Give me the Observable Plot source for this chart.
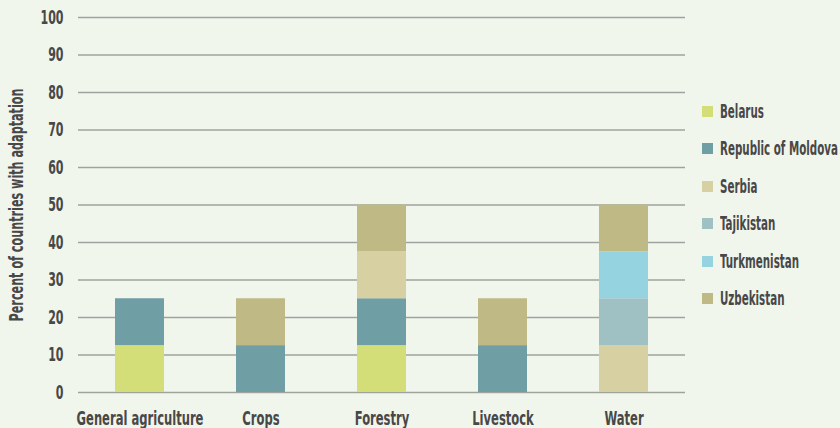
<!DOCTYPE html>
<html>
<head>
<meta charset="utf-8">
<script src="https://cdn.jsdelivr.net/npm/d3@7"></script>
<script src="https://cdn.jsdelivr.net/npm/@observablehq/plot@0.6"></script>
<style>
  html, body { margin: 0; padding: 0; background: #f1f6ec; }
  #wrap { position: relative; width: 840px; height: 428px; overflow: hidden;
    font-family: "DejaVu Sans Condensed", "DejaVu Sans", sans-serif; }
  #legend { position: absolute; left: 702px; top: 93px; }
  .item { position: relative; height: 37.4px; white-space: nowrap; }
  .sw { position: absolute; left: 0; top: 13px; width: 11px; height: 11px; }
  .lab { position: absolute; left: 18px; top: 6px; font-size: 20px; line-height: 24px; color: #484848;
    font-weight: bold; transform-origin: 0 50%; }
  #chart svg text { font-weight: bold; font-size: 20px; }
</style>
</head>
<body>
<div id="wrap"><div id="chart"></div><div id="legend"></div></div>
<script>
const categories = ["General agriculture", "Crops", "Forestry", "Livestock", "Water"];
const countries = ["Belarus", "Republic of Moldova", "Serbia", "Tajikistan", "Turkmenistan", "Uzbekistan"];
const colors = ["#d4de78", "#6f9fa5", "#d6d0a3", "#a0c1c4", "#96d3e0", "#bfba85"];
// percent of countries with adaptation, per country (rows) per category (columns)
const belarus      = [12.5, 0,    12.5, 0,    0];
const moldova      = [12.5, 12.5, 12.5, 12.5, 0];
const serbia       = [0,    0,    12.5, 0,    12.5];
const tajikistan   = [0,    0,    0,    0,    12.5];
const turkmenistan = [0,    0,    0,    0,    12.5];
const uzbekistan   = [0,    12.5, 12.5, 12.5, 12.5];
const yTicks = [0, 10, 20, 30, 40, 50, 60, 70, 80, 90, 100];
const yLabel = "Percent of countries with adaptation";

const series = [belarus, moldova, serbia, tajikistan, turkmenistan, uzbekistan];
const data = [];
series.forEach((vals, i) => vals.forEach((v, j) => {
  if (v > 0) data.push({category: categories[j], country: countries[i], value: v});
}));

const chart = Plot.plot({
  width: 840, height: 428,
  marginLeft: 78, marginRight: 155, marginTop: 17, marginBottom: 36,
  style: {background: "#f1f6ec", fontFamily: "DejaVu Sans Condensed, DejaVu Sans, sans-serif", color: "#484848"},
  x: {domain: categories, paddingInner: 0.594, paddingOuter: 0.3, label: null},
  y: {domain: [0, 100], label: null},
  color: {domain: countries, range: colors},
  marks: [
    Plot.gridY(yTicks, {stroke: "#9ea39e", strokeOpacity: 1, strokeWidth: 1.4}),
    Plot.barY(data, Plot.stackY({x: "category", y: "value", fill: "country", order: countries})),
    Plot.axisY({ticks: yTicks, tickSize: 0, tickPadding: 15, label: yLabel, labelAnchor: "center", labelArrow: "none", labelOffset: 70, fontSize: 20}),
    Plot.axisX({tickSize: 0, tickPadding: 18, label: null, fontSize: 20})
  ]
});
document.getElementById("chart").appendChild(chart);

// condensed look: squeeze text horizontally around its anchor, so that a reference text gets its width
function squeeze(texts, refContent, target) {
  texts = Array.from(texts);
  const ref = texts.find(t => t.textContent === refContent) || texts[0];
  if (!ref) return;
  const s = target / ref.getComputedTextLength();
  texts.forEach(t => {
    const tr = t.getAttribute("transform") || "";
    t.setAttribute("transform", tr + ` scale(${s},1)`);
  });
}
squeeze(chart.querySelectorAll("[aria-label='x-axis tick label'] text"), "General agriculture", 127);
squeeze(chart.querySelectorAll("[aria-label='y-axis tick label'] text"), "100", 23);
squeeze(chart.querySelectorAll("[aria-label='y-axis label'] text"), yLabel, 233);

const legend = document.getElementById("legend");
const labs = [];
countries.forEach((c, i) => {
  const d = document.createElement("div");
  d.className = "item";
  d.innerHTML = `<span class="sw" style="background:${colors[i]}"></span><span class="lab">${c}</span>`;
  legend.appendChild(d);
  labs.push(d.querySelector(".lab"));
});
const ls = 118 / labs[1].offsetWidth;
labs.forEach(l => { l.style.transform = `scaleX(${ls})`; });
</script>
</body>
</html>
